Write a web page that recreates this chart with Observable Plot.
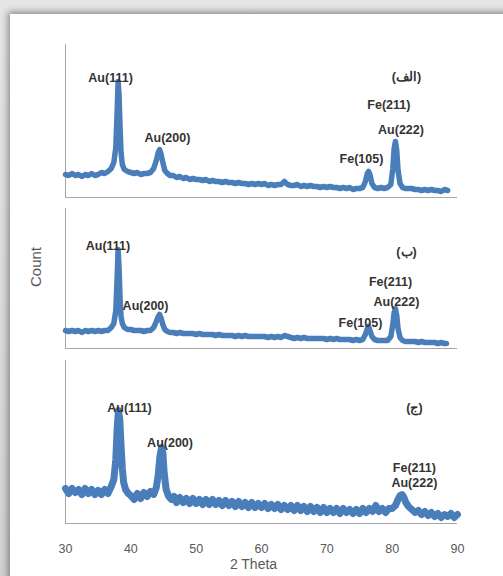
<!DOCTYPE html>
<html><head><meta charset="utf-8">
<script src="https://cdn.jsdelivr.net/npm/d3@7"></script>
<script src="https://cdn.jsdelivr.net/npm/@observablehq/plot@0.6"></script>
<style>
html,body{margin:0;padding:0;}
body{width:503px;height:576px;overflow:hidden;position:relative;background:linear-gradient(#e6e6e6,#d2d2d2);font-family:"Liberation Sans",Arial,sans-serif;}
#card{position:absolute;left:10px;top:14px;width:530px;height:600px;background:#fff;box-shadow:-2px -2px 7px rgba(0,0,0,0.4);}
.panel{position:absolute;left:0;}
#count{position:absolute;left:35px;top:267px;transform:translate(-50%,-50%) rotate(-90deg);font-size:15px;color:#595959;white-space:nowrap;}
</style></head><body>
<div id="card"></div>
<div id="p1" class="panel" style="top:30px"></div>
<div id="p2" class="panel" style="top:200px"></div>
<div id="p3" class="panel" style="top:350px"></div>
<div id="count">Count</div>
<script>
// ---- Panel (الف) ----
const thetaA = [30.0,30.5,31.0,31.5,32.0,32.5,33.0,33.5,34.0,34.5,35.0,35.5,36.0,36.5,37.0,37.4,37.7,37.9,38.05,38.2,38.35,38.5,38.7,39.0,39.5,40.0,40.5,41.0,41.5,42.0,42.5,43.0,43.5,43.9,44.2,44.4,44.6,44.9,45.2,45.6,46.0,46.5,47.0,47.5,48.0,48.5,49.0,49.5,50.0,50.5,51.0,51.5,52.0,52.5,53.0,53.5,54.0,54.5,55.0,55.5,56.0,56.5,57.0,57.5,58.0,58.5,59.0,59.5,60.0,60.5,61.0,61.5,62.0,62.5,63.0,63.5,64.0,64.5,65.0,65.5,66.0,66.5,67.0,67.5,68.0,68.5,69.0,69.5,70.0,70.5,71.0,71.5,72.0,72.5,73.0,73.5,74.0,74.5,75.0,75.5,75.9,76.2,76.4,76.6,76.9,77.3,77.8,78.3,78.8,79.3,79.8,80.1,80.3,80.5,80.7,80.9,81.2,81.6,82.0,82.5,83.0,83.5,84.0,84.5,85.0,85.5,86.0,86.5,87.0,87.5,88.0,88.5];
const countA = [23,22,24,22,23,21,23,22,24,22,23,25,24,26,29,35,50,85,116,102,70,45,33,28,26,25,24,25,23,24,24,25,29,37,45,48,44,35,27,24,22,22,20,21,19,20,18,19,18,18,17,18,16,17,16,16,15,16,15,15,14,15,14,14,13,14,13,14,13,14,12,13,12,13,13,16,13,12,12,13,11,12,11,12,11,11,10,11,10,11,10,10,9,10,9,10,8,9,9,10,16,24,26,23,14,10,9,10,9,10,13,29,49,56,47,27,14,10,9,9,9,8,8,7,8,7,8,7,7,6,8,7];
const labelTextA = ["Au(111)","Au(200)","(الف)","Fe(211)","Au(222)","Fe(105)"];
const labelThetaA = [36.9,45.6,82.2,79.5,81.35,75.3];
const labelCountA = [120,60,121,93,68,39];

// ---- Panel (ب) ----
const thetaB = [30.0,30.5,31.0,31.5,32.0,32.5,33.0,33.5,34.0,34.5,35.0,35.5,36.0,36.5,37.0,37.4,37.7,37.9,38.05,38.2,38.35,38.5,38.7,39.0,39.5,40.0,40.5,41.0,41.5,42.0,42.5,43.0,43.5,43.9,44.2,44.4,44.6,44.9,45.2,45.6,46.0,46.5,47.0,47.5,48.0,48.5,49.0,49.5,50.0,50.5,51.0,51.5,52.0,52.5,53.0,53.5,54.0,54.5,55.0,55.5,56.0,56.5,57.0,57.5,58.0,58.5,59.0,59.5,60.0,60.5,61.0,61.5,62.0,62.5,63.0,63.5,64.0,64.5,65.0,65.5,66.0,66.5,67.0,67.5,68.0,68.5,69.0,69.5,70.0,70.5,71.0,71.5,72.0,72.5,73.0,73.5,74.0,74.5,75.0,75.5,75.9,76.2,76.4,76.6,76.9,77.3,77.8,78.3,78.8,79.3,79.8,80.1,80.3,80.5,80.7,80.9,81.2,81.6,82.0,82.5,83.0,83.5,84.0,84.5,85.0,85.5,86.0,86.5,87.0,87.5,88.0,88.3];
const countB = [18,17,18,17,18,16,18,17,18,17,18,17,18,18,21,25,38,70,99,80,50,32,25,21,19,19,18,18,18,17,18,18,21,27,32,34,31,24,19,17,16,16,15,16,15,15,15,15,14,15,14,14,14,14,13,14,13,13,13,13,12,13,12,13,12,12,12,12,12,12,11,12,11,12,11,13,12,11,10,11,10,11,10,10,10,10,10,10,9,10,9,10,9,9,9,9,8,9,8,9,14,20,22,18,12,9,8,8,8,8,12,24,36,40,33,20,11,8,7,7,7,7,6,7,6,6,6,6,5,6,5,5];
const labelTextB = ["Au(111)","Au(200)","(ب)","Fe(211)","Au(222)","Fe(105)"];
const labelThetaB = [36.5,42.25,82.2,79.75,80.65,75.15];
const labelCountB = [103,43,97,67,47,26];

// ---- Panel (ج) ----
const thetaC = [30.0,30.5,31.0,31.5,32.0,32.5,33.0,33.5,34.0,34.5,35.0,35.5,36.0,36.5,37.0,37.4,37.7,37.9,38.1,38.3,38.5,38.7,38.9,39.2,39.6,40.0,40.5,41.0,41.5,42.0,42.5,43.0,43.5,43.9,44.2,44.45,44.7,44.9,45.1,45.4,45.8,46.2,46.6,47.0,47.5,48.0,48.5,49.0,49.5,50.0,50.5,51.0,51.5,52.0,52.5,53.0,53.5,54.0,54.5,55.0,55.5,56.0,56.5,57.0,57.5,58.0,58.5,59.0,59.5,60.0,60.5,61.0,61.5,62.0,62.5,63.0,63.5,64.0,64.5,65.0,65.5,66.0,66.5,67.0,67.5,68.0,68.5,69.0,69.5,70.0,70.5,71.0,71.5,72.0,72.5,73.0,73.5,74.0,74.5,75.0,75.5,76.0,76.5,77.0,77.5,78.0,78.5,79.0,79.5,80.0,80.5,80.9,81.2,81.5,81.8,82.1,82.5,83.0,83.5,84.0,84.5,85.0,85.5,86.0,86.5,87.0,87.5,88.0,88.5,89.0,89.5,90.0];
const countC = [35,30,35,31,34,29,35,30,34,29,33,29,34,30,37,44,64,94,113,105,78,55,41,34,30,28,24,30,25,31,27,32,29,36,49,67,76,71,51,34,27,24,27,21,26,21,25,20,25,20,24,19,24,19,24,19,23,18,23,18,22,17,22,17,21,16,21,16,20,16,20,15,19,15,19,14,18,14,18,13,18,13,17,12,17,12,16,11,16,11,15,11,15,10,15,11,14,10,14,10,15,11,15,12,18,12,15,11,15,15,18,24,28,29,26,21,17,14,11,13,9,12,8,11,7,10,6,9,7,10,6,9];
const labelTextC = ["Au(111)","Au(200)","(ج)","Fe(211)","Au(222)"];
const labelThetaC = [39.8,46.0,83.4,83.4,83.4];
const labelCountC = [116,81,116,56,41];

const xTicks = [30,40,50,60,70,80,90];
const xLabel = "2 Theta";

const BLUE = "#4a7ebb";
const AXIS = "#a6a6a6";
const FONT = "'Liberation Sans', Arial, sans-serif";

function panel(theta, count, text, lt, lc, o) {
  const data = theta.map((t, i) => ({theta: t, count: count[i]}));
  const labels = text.map((s, i) => ({text: s, theta: lt[i], count: lc[i]}));
  const marks = [
    Plot.ruleX([30], {stroke: AXIS, strokeWidth: 1}),
    Plot.ruleY([0], {stroke: AXIS, strokeWidth: 1}),
    Plot.line(data, {x: "theta", y: "count", stroke: BLUE, strokeWidth: o.sw, strokeLinejoin: "round"}),
    Plot.text(labels, {x: "theta", y: "count", text: "text", fontSize: 12.5, fontWeight: "bold", fill: "#333333", fontFamily: FONT})
  ];
  if (o.axis) {
    marks.push(Plot.text([xLabel], {text: d => d, frameAnchor: "bottom", dy: 45, dx: -8, fontSize: 14, fill: "#595959", fontFamily: FONT}));
  }
  return Plot.plot({
    width: 503, height: o.height,
    marginLeft: 65, marginRight: 46, marginTop: o.mt, marginBottom: o.mb,
    style: {background: "transparent", fontFamily: FONT, fontSize: "12.5px", color: "#595959"},
    x: o.axis ? {domain: [30, 90], ticks: xTicks, tickSize: 0, tickPadding: 21, label: null} : {domain: [30, 90], axis: null},
    y: {domain: [0, o.ymax], axis: null},
    marks
  });
}

document.getElementById("p1").appendChild(panel(thetaA, countA, labelTextA, labelThetaA, labelCountA, {height: 170, mt: 14, mb: 3, ymax: 153, sw: 5.5}));
document.getElementById("p2").appendChild(panel(thetaB, countB, labelTextB, labelThetaB, labelCountB, {height: 150, mt: 8, mb: 2, ymax: 140, sw: 5.5}));
document.getElementById("p3").appendChild(panel(thetaC, countC, labelTextC, labelThetaC, labelCountC, {height: 226, mt: 10, mb: 53, ymax: 163, sw: 7, axis: true}));
</script>
</body></html>
